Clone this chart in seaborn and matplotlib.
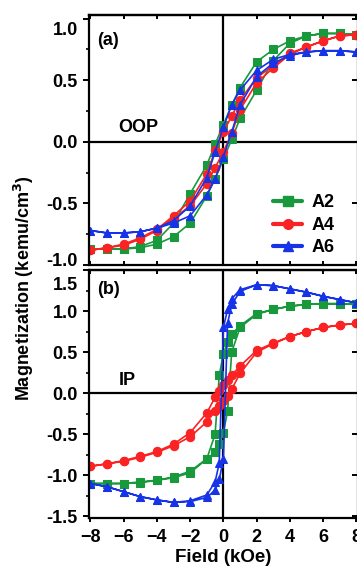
import matplotlib
matplotlib.use("Agg")
import matplotlib.pyplot as plt
import matplotlib.transforms as mtransforms
from matplotlib.lines import Line2D
from matplotlib.ticker import MultipleLocator, FormatStrFormatter
import seaborn as sns
import pandas as pd

# field values (kOe), ascending branch; descending branch is the same points in reverse
OOP_FIELD_UP = [-8, -7, -6, -5, -4, -3, -2, -1, -0.5, 0, 0.5, 1, 2, 3, 4, 5, 6, 7, 8]
IP_FIELD_UP = [-8, -7, -6, -5, -4, -3, -2, -1, -0.5, -0.25, 0, 0.25, 0.5, 1, 2, 3, 4, 5, 6, 7, 8]

SAMPLES = ["A2", "A4", "A6"]
COLORS = {"A2": "#17993c", "A4": "#fa2222", "A6": "#1633e8"}
MARKERS = {"A2": "s", "A4": "o", "A6": "^"}

# (a) out-of-plane, magnetization in kemu/cm3
OOP_A2_UP = [-0.87, -0.87, -0.87, -0.86, -0.83, -0.77, -0.66, -0.44, -0.30, -0.14, 0.02, 0.19, 0.42, 0.66, 0.80, 0.86, 0.88, 0.88, 0.87]
OOP_A2_DOWN = [0.87, 0.88, 0.88, 0.86, 0.82, 0.75, 0.65, 0.44, 0.30, 0.14, -0.02, -0.19, -0.42, -0.66, -0.80, -0.85, -0.87, -0.87, -0.87]
OOP_A4_UP = [-0.88, -0.86, -0.84, -0.79, -0.72, -0.62, -0.52, -0.34, -0.21, -0.08, 0.07, 0.26, 0.48, 0.60, 0.71, 0.77, 0.82, 0.86, 0.87]
OOP_A4_DOWN = [0.87, 0.86, 0.82, 0.77, 0.72, 0.62, 0.52, 0.34, 0.21, 0.08, -0.07, -0.26, -0.48, -0.60, -0.71, -0.78, -0.83, -0.86, -0.88]
OOP_A6_UP = [-0.72, -0.74, -0.74, -0.73, -0.70, -0.66, -0.60, -0.43, -0.30, -0.12, 0.08, 0.30, 0.53, 0.64, 0.70, 0.73, 0.74, 0.74, 0.73]
OOP_A6_DOWN = [0.73, 0.74, 0.74, 0.73, 0.71, 0.67, 0.58, 0.42, 0.30, 0.12, -0.08, -0.29, -0.52, -0.64, -0.70, -0.73, -0.74, -0.74, -0.72]

# (b) in-plane
IP_A2_UP = [-1.10, -1.10, -1.10, -1.09, -1.06, -1.03, -0.97, -0.80, -0.72, -0.62, -0.48, -0.22, 0.50, 0.80, 0.96, 1.02, 1.06, 1.08, 1.09, 1.09, 1.08]
IP_A2_DOWN = [1.08, 1.09, 1.09, 1.08, 1.06, 1.02, 0.97, 0.82, 0.72, 0.62, 0.48, 0.22, -0.50, -0.80, -0.95, -1.02, -1.06, -1.08, -1.10, -1.10, -1.10]
IP_A4_UP = [-0.89, -0.86, -0.83, -0.78, -0.72, -0.64, -0.53, -0.35, -0.22, -0.16, -0.10, -0.03, 0.05, 0.24, 0.50, 0.60, 0.69, 0.75, 0.80, 0.83, 0.85]
IP_A4_DOWN = [0.85, 0.83, 0.80, 0.75, 0.69, 0.61, 0.52, 0.33, 0.22, 0.16, 0.10, 0.03, -0.05, -0.24, -0.48, -0.62, -0.71, -0.77, -0.82, -0.86, -0.89]
IP_A6_UP = [-1.10, -1.14, -1.20, -1.26, -1.30, -1.33, -1.32, -1.27, -1.18, -1.05, -0.80, 0.85, 1.08, 1.24, 1.32, 1.31, 1.27, 1.23, 1.18, 1.14, 1.10]
IP_A6_DOWN = [1.10, 1.14, 1.18, 1.23, 1.27, 1.31, 1.32, 1.26, 1.15, 1.02, 0.80, -0.85, -1.08, -1.24, -1.31, -1.33, -1.30, -1.26, -1.20, -1.14, -1.10]

OOP = {"A2": (OOP_A2_DOWN, OOP_A2_UP), "A4": (OOP_A4_DOWN, OOP_A4_UP), "A6": (OOP_A6_DOWN, OOP_A6_UP)}
IP = {"A2": (IP_A2_DOWN, IP_A2_UP), "A4": (IP_A4_DOWN, IP_A4_UP), "A6": (IP_A6_DOWN, IP_A6_UP)}

sns.set_style("ticks")
plt.rcParams["font.family"] = ["Liberation Sans", "DejaVu Sans"]
plt.rcParams["font.weight"] = "bold"
plt.rcParams["axes.labelweight"] = "bold"
plt.rcParams["axes.linewidth"] = 1.6
for key in ["text.color", "axes.labelcolor", "xtick.color", "ytick.color", "axes.edgecolor"]:
    plt.rcParams[key] = "black"


def loop_frame(field_up, curves):
    # one closed path per sample: +8 -> -8, then -8 -> +8
    rows = []
    for name in SAMPLES:
        down, up = curves[name]
        path_x = list(reversed(field_up)) + list(field_up)
        path_y = list(down) + list(up)
        for i, (fx, my) in enumerate(zip(path_x, path_y)):
            rows.append({"sample": name, "order": i, "field": fx, "M": my})
    return pd.DataFrame(rows)


def draw_panel(ax, df):
    for name in SAMPLES:
        sub = df[df["sample"] == name]
        sns.lineplot(data=sub, x="field", y="M", sort=False, estimator=None,
                     color=COLORS[name], marker=MARKERS[name], markersize=6,
                     markeredgecolor=COLORS[name], linewidth=1.2, ax=ax, legend=False)
    ax.axhline(0, color="black", lw=1.6, zorder=0)
    ax.axvline(0, color="black", lw=1.6, zorder=0)
    ax.set_xlim(-8.09, 8.1)
    ax.set_xlabel("")
    ax.set_ylabel("")
    ax.xaxis.set_major_locator(MultipleLocator(2))
    ax.yaxis.set_major_locator(MultipleLocator(0.5))
    ax.yaxis.set_minor_locator(MultipleLocator(0.25))
    ax.tick_params(axis="y", which="major", direction="out", length=4, width=1.4, labelsize=13, pad=4)
    ax.tick_params(axis="y", which="minor", direction="out", length=2, width=1.2)
    ax.yaxis.set_major_formatter(FormatStrFormatter("%.1f"))
    right = ax.secondary_yaxis("right")
    right.yaxis.set_major_locator(MultipleLocator(0.5))
    right.tick_params(direction="in", length=4, width=1.4, labelright=False)
    top = ax.secondary_xaxis("top")
    top.xaxis.set_major_locator(MultipleLocator(2))
    top.tick_params(direction="in", length=3, width=1.4, labeltop=False)


fig = plt.figure(figsize=(3.57, 5.74), dpi=100)
ax_a = fig.add_axes([89 / 357, 1 - 265 / 574, 269 / 357, 250 / 574])
ax_b = fig.add_axes([89 / 357, 1 - 518 / 574, 269 / 357, 248 / 574])

draw_panel(ax_a, loop_frame(OOP_FIELD_UP, OOP))
draw_panel(ax_b, loop_frame(IP_FIELD_UP, IP))

ax_a.set_ylim(-1.0, 1.03)
ax_b.set_ylim(-1.52, 1.5)
ax_a.tick_params(axis="x", direction="in", length=3, width=1.4, labelbottom=False)
ax_b.tick_params(axis="x", direction="out", length=3, width=1.4, labelsize=13, pad=5)

ax_a.text(-7.6, 0.82, "(a)", fontsize=13, va="center", ha="left")
ax_a.text(-6.3, 0.12, "OOP", fontsize=13, va="center", ha="left")
ax_b.text(-7.6, 1.26, "(b)", fontsize=13, va="center", ha="left")
ax_b.text(-6.3, 0.16, "IP", fontsize=13, va="center", ha="left")

handles = [Line2D([0], [0], color=COLORS[n], marker=MARKERS[n], markersize=7,
                  markeredgecolor=COLORS[n], lw=3) for n in SAMPLES]
ax_a.legend(handles, SAMPLES, loc="lower left", bbox_to_anchor=(0.685, 0.035),
            frameon=False, fontsize=13, handlelength=1.6, handletextpad=0.5,
            labelspacing=0.3, borderpad=0, borderaxespad=0, numpoints=1)

ax_b.set_xlabel("Field (kOe)", fontsize=13.5, labelpad=2)
fig.text(24 / 357, 1 - 288 / 574, "Magnetization (kemu/cm$^\\mathbf{3}$)",
         rotation=90, fontsize=13, fontweight="bold", ha="center", va="center")

# nudge the end labels so the two panels' labels do not collide
fig.canvas.draw()
for ax, val, dy in [(ax_a, 1.0, -10), (ax_a, -1.0, 5), (ax_b, 1.5, -14)]:
    for tick in ax.yaxis.get_major_ticks():
        if abs(tick.get_loc() - val) < 1e-6:
            off = mtransforms.ScaledTranslation(0, dy / 100, fig.dpi_scale_trans)
            tick.label1.set_transform(tick.label1.get_transform() + off)

fig.savefig("out.png", dpi=100)
